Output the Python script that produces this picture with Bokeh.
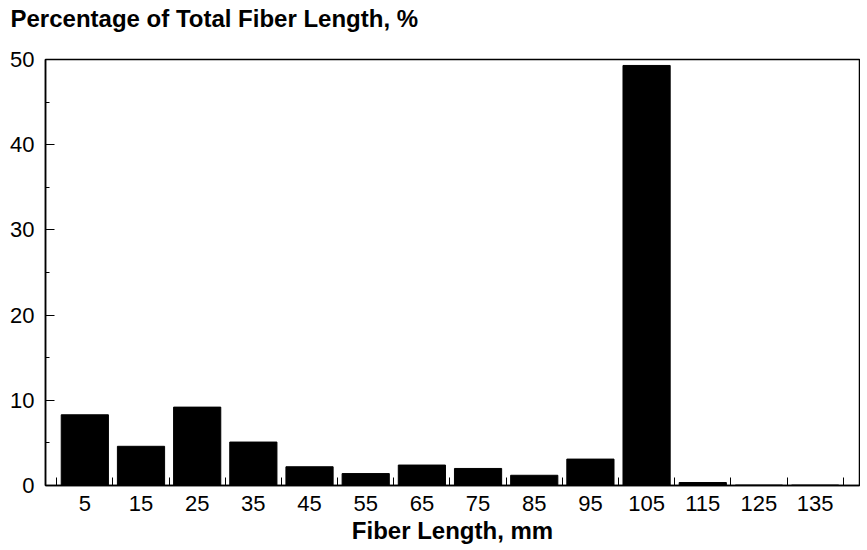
from bokeh.plotting import figure
from bokeh.models import FixedTicker, Range1d, Title, ColumnDataSource
from bokeh.embed import file_html
from bokeh.resources import INLINE

# Data
fiber_length_mm = [5, 15, 25, 35, 45, 55, 65, 75, 85, 95, 105, 115, 125, 135]
percentage = [8.3, 4.6, 9.2, 5.1, 2.2, 1.4, 2.4, 2.0, 1.2, 3.1, 49.3, 0.35, 0.05, 0.05]
bin_edges = [0, 10, 20, 30, 40, 50, 60, 70, 80, 90, 100, 110, 120, 130, 140]
y_ticks = [0, 10, 20, 30, 40, 50]
y_minor = [5, 15, 25, 35, 45]
title_text = "Percentage of Total Fiber Length, %"

FONT = "Liberation Sans"

p = figure(frame_width=814, frame_height=426, output_backend="svg", toolbar_location=None,
           x_range=Range1d(-2.0, 142.9), y_range=Range1d(0, 50),
           min_border_left=45, min_border_right=1, min_border_bottom=0, min_border_top=59)

src = ColumnDataSource(dict(x=fiber_length_mm, top=percentage))
p.vbar(x="x", top="top", bottom=0, width=8.4, source=src,
       fill_color="black", line_color="black")

p.xgrid.visible = False
p.ygrid.visible = False

p.outline_line_color = "black"
p.outline_line_width = 1.5

# x axis
xa = p.xaxis[0]
xa.ticker = FixedTicker(ticks=fiber_length_mm, minor_ticks=bin_edges)
xa.major_tick_in = 0
xa.major_tick_out = 0
xa.minor_tick_in = 8
xa.minor_tick_out = 0
xa.axis_line_width = 1.5
xa.major_label_text_font = FONT
xa.major_label_text_font_size = "22px"
xa.major_label_text_color = "black"
xa.major_label_standoff = 10
xa.axis_label = "Fiber Length, mm"
xa.axis_label_text_font = FONT
xa.axis_label_text_font_size = "24px"
xa.axis_label_text_font_style = "bold"
xa.axis_label_text_color = "black"
xa.axis_label_standoff = 3

# y axis
ya = p.yaxis[0]
ya.ticker = FixedTicker(ticks=y_ticks, minor_ticks=y_minor)
ya.major_tick_in = 9
ya.major_tick_out = 0
ya.minor_tick_in = 4
ya.minor_tick_out = 0
ya.axis_line_width = 1.5
ya.major_label_text_font = FONT
ya.major_label_text_font_size = "22px"
ya.major_label_text_color = "black"
ya.major_label_standoff = 11

# spacer between frame and title (nearest the frame), then the title above it
p.add_layout(Title(text=" ", text_font_size="1px", standoff=25), "above")
p.add_layout(Title(text=title_text, align="left",
                   offset=-35, text_font=FONT, text_font_size="24px",
                   text_font_style="bold", text_color="black", standoff=0,
                   vertical_align="bottom"), "above")

open("out.html", "w").write(file_html(p, INLINE))
